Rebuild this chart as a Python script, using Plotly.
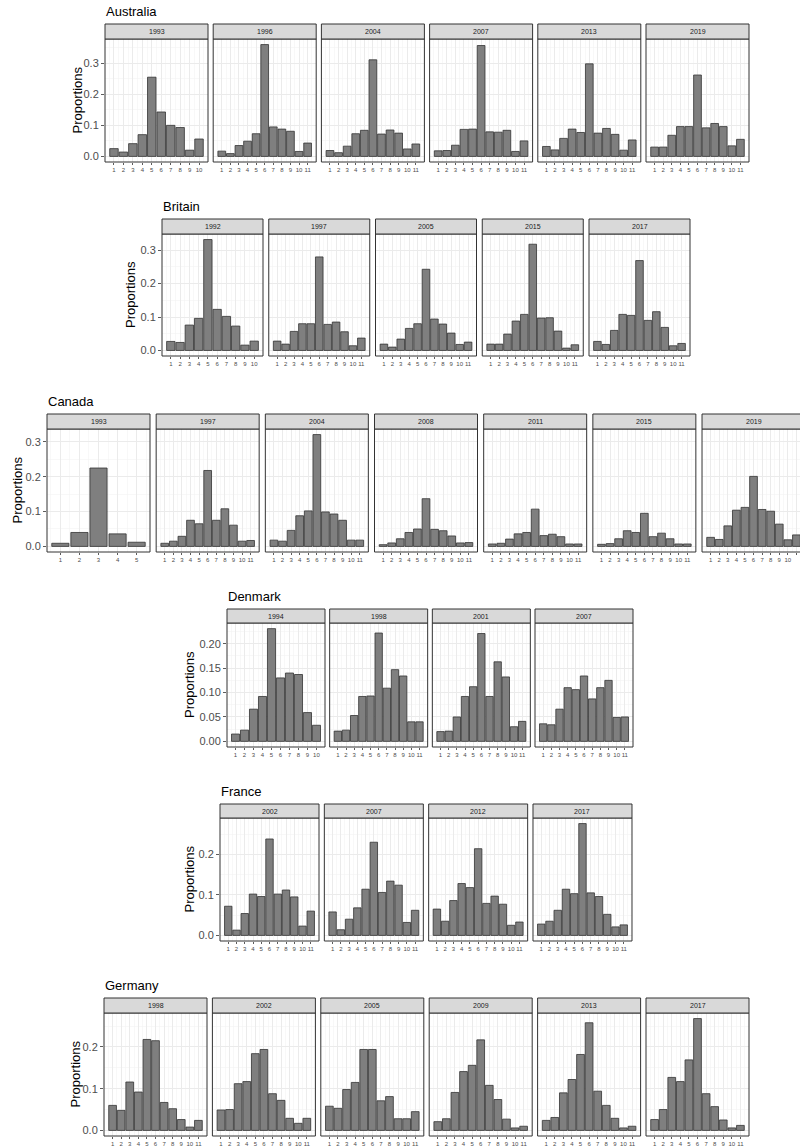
import plotly.graph_objects as go

# page is 800 x 1148; the body margin is removed so the figure fills the window
PAGE_W, PAGE_H = 800, 1148
OFF = 0
W, H = PAGE_W - OFF, PAGE_H - OFF

# ---------------- data (proportions) ----------------
australia_years = ["1993", "1996", "2004", "2007", "2013", "2019"]
australia_props = [
    [0.025, 0.014, 0.041, 0.070, 0.255, 0.143, 0.100, 0.093, 0.020, 0.056],
    [0.017, 0.009, 0.035, 0.049, 0.073, 0.360, 0.095, 0.088, 0.081, 0.016, 0.043],
    [0.019, 0.012, 0.033, 0.073, 0.084, 0.311, 0.072, 0.085, 0.075, 0.024, 0.040],
    [0.018, 0.019, 0.036, 0.087, 0.088, 0.357, 0.079, 0.078, 0.084, 0.016, 0.050],
    [0.032, 0.021, 0.058, 0.088, 0.077, 0.298, 0.075, 0.090, 0.071, 0.020, 0.053],
    [0.030, 0.030, 0.068, 0.096, 0.096, 0.262, 0.092, 0.106, 0.096, 0.034, 0.055],
]

britain_years = ["1992", "1997", "2005", "2015", "2017"]
britain_props = [
    [0.027, 0.024, 0.076, 0.096, 0.332, 0.123, 0.102, 0.073, 0.016, 0.028],
    [0.028, 0.019, 0.057, 0.080, 0.080, 0.280, 0.078, 0.085, 0.056, 0.014, 0.037],
    [0.019, 0.010, 0.034, 0.066, 0.080, 0.243, 0.094, 0.079, 0.052, 0.018, 0.025],
    [0.019, 0.019, 0.049, 0.088, 0.108, 0.318, 0.097, 0.098, 0.058, 0.007, 0.017],
    [0.027, 0.018, 0.060, 0.108, 0.105, 0.269, 0.090, 0.116, 0.069, 0.014, 0.021],
]

canada_years = ["1993", "1997", "2004", "2008", "2011", "2015", "2019"]
canada_props = [
    [0.009, 0.040, 0.225, 0.036, 0.012],
    [0.009, 0.015, 0.029, 0.075, 0.065, 0.218, 0.075, 0.108, 0.061, 0.015, 0.017],
    [0.018, 0.015, 0.046, 0.088, 0.102, 0.321, 0.099, 0.093, 0.075, 0.018, 0.018],
    [0.005, 0.010, 0.022, 0.040, 0.050, 0.137, 0.049, 0.045, 0.030, 0.010, 0.011],
    [0.007, 0.009, 0.021, 0.036, 0.040, 0.107, 0.031, 0.035, 0.028, 0.007, 0.007],
    [0.006, 0.008, 0.022, 0.045, 0.040, 0.095, 0.028, 0.038, 0.022, 0.007, 0.007],
    [0.026, 0.020, 0.059, 0.104, 0.112, 0.201, 0.106, 0.101, 0.064, 0.019, 0.033],
]

denmark_years = ["1994", "1998", "2001", "2007"]
denmark_props = [
    [0.015, 0.023, 0.066, 0.092, 0.231, 0.130, 0.140, 0.137, 0.059, 0.033],
    [0.021, 0.023, 0.053, 0.092, 0.093, 0.222, 0.109, 0.147, 0.134, 0.040, 0.040],
    [0.020, 0.021, 0.050, 0.092, 0.112, 0.221, 0.092, 0.163, 0.132, 0.030, 0.041],
    [0.036, 0.034, 0.066, 0.110, 0.106, 0.134, 0.087, 0.110, 0.125, 0.049, 0.050],
]

france_years = ["2002", "2007", "2012", "2017"]
france_props = [
    [0.072, 0.013, 0.054, 0.102, 0.096, 0.238, 0.102, 0.112, 0.095, 0.023, 0.060],
    [0.058, 0.014, 0.040, 0.068, 0.114, 0.230, 0.106, 0.134, 0.124, 0.032, 0.062],
    [0.065, 0.035, 0.086, 0.128, 0.118, 0.214, 0.079, 0.097, 0.077, 0.025, 0.033],
    [0.028, 0.035, 0.062, 0.114, 0.103, 0.276, 0.105, 0.096, 0.052, 0.021, 0.026],
]

germany_years = ["1998", "2002", "2005", "2009", "2013", "2017"]
germany_props = [
    [0.060, 0.048, 0.116, 0.092, 0.218, 0.215, 0.067, 0.052, 0.026, 0.008, 0.024],
    [0.049, 0.050, 0.112, 0.117, 0.184, 0.194, 0.088, 0.072, 0.029, 0.017, 0.029],
    [0.058, 0.053, 0.098, 0.115, 0.194, 0.194, 0.071, 0.081, 0.028, 0.028, 0.045],
    [0.021, 0.028, 0.091, 0.141, 0.156, 0.217, 0.108, 0.074, 0.027, 0.006, 0.010],
    [0.024, 0.031, 0.090, 0.122, 0.182, 0.258, 0.094, 0.060, 0.029, 0.006, 0.010],
    [0.026, 0.050, 0.127, 0.117, 0.169, 0.268, 0.088, 0.057, 0.025, 0.006, 0.012],
]

# ---------------- layout (page-pixel geometry of each country block) ----------------
blocks = [
    dict(name="Australia", years=australia_years, props=australia_props,
         left=105, step=108.2, width=103, strip_top=24, plot_top=39, plot_bot=162,
         dtick=0.1, fmt=".1f", ylab_off=28),
    dict(name="Britain", years=britain_years, props=britain_props,
         left=162, step=106.75, width=101, strip_top=219, plot_top=234, plot_bot=356,
         dtick=0.1, fmt=".1f", ylab_off=31),
    dict(name="Canada", years=canada_years, props=canada_props,
         left=47, step=109.17, width=103, strip_top=414, plot_top=429, plot_bot=552,
         dtick=0.1, fmt=".1f", ylab_off=30),
    dict(name="Denmark", years=denmark_years, props=denmark_props,
         left=227, step=102.67, width=98, strip_top=609, plot_top=623, plot_bot=747,
         dtick=0.05, fmt=".2f", ylab_off=38),
    dict(name="France", years=france_years, props=france_props,
         left=220, step=104.33, width=99, strip_top=804, plot_top=818, plot_bot=941,
         dtick=0.1, fmt=".1f", ylab_off=31),
    dict(name="Germany", years=germany_years, props=germany_props,
         left=104, step=108.4, width=103, strip_top=998, plot_top=1013, plot_bot=1136,
         dtick=0.1, fmt=".1f", ylab_off=29),
]

FONT = "Liberation Sans, Arial, Helvetica, sans-serif"
BAR_FILL = "#7F7F7F"
BAR_LINE = "#333333"
GRID_MAJ = "#EBEBEB"
GRID_MIN = "#F4F4F4"
BORDER = "#333333"
STRIP_FILL = "#D9D9D9"


def px(x):
    return (x - OFF) / W


def py(y):
    return 1 - (y - OFF) / H


fig = go.Figure()
layout = dict(
    width=W, height=H, autosize=False,
    margin=dict(l=0, r=0, t=0, b=0),
    paper_bgcolor="white", plot_bgcolor="white",
    showlegend=False, bargap=0,
    font=dict(family=FONT),
)
shapes = []
annotations = []

k = 0
for b in blocks:
    vmax = max(max(v) for v in b["props"])
    yr = [-0.05 * vmax, 1.05 * vmax]
    first_y = None
    for i, (yr_lbl, vals) in enumerate(zip(b["years"], b["props"])):
        k += 1
        n = len(vals)
        xs = list(range(1, n + 1))
        xname = "x" if k == 1 else f"x{k}"
        yname = "y" if k == 1 else f"y{k}"
        xkey = "xaxis" if k == 1 else f"xaxis{k}"
        ykey = "yaxis" if k == 1 else f"yaxis{k}"

        left = b["left"] + i * b["step"]
        right = left + b["width"]
        lo, hi = 0.55 - 0.05 * n, n + 0.45 + 0.05 * n
        vis_right = min(right, PAGE_W)
        vis_hi = lo + (hi - lo) * (vis_right - left) / (right - left)

        fig.add_trace(go.Bar(
            x=xs, y=vals, width=0.9, xaxis=xname, yaxis=yname,
            marker=dict(color=BAR_FILL, line=dict(color=BAR_LINE, width=0.8)),
            hoverinfo="x+y",
        ))

        layout[xkey] = dict(
            domain=[px(left), px(vis_right)], anchor=yname,
            range=[lo, vis_hi], tickmode="array", tickvals=xs,
            ticktext=[str(v) for v in xs], tickangle=0,
            tickfont=dict(size=6, color="#4D4D4D", family=FONT),
            ticks="outside", ticklen=2, tickcolor=BORDER, tickwidth=0.8,
            showgrid=True, gridcolor=GRID_MAJ, gridwidth=1,
            minor=dict(dtick=0.5, tick0=0.5, showgrid=True, gridcolor=GRID_MIN,
                       gridwidth=0.6, ticks=""),
            zeroline=False, showline=False, fixedrange=True,
        )
        ydict = dict(
            domain=[py(b["plot_bot"]), py(b["plot_top"])], anchor=xname,
            range=yr, dtick=b["dtick"], tick0=0, tickformat=b["fmt"],
            showgrid=True, gridcolor=GRID_MAJ, gridwidth=1,
            minor=dict(dtick=b["dtick"] / 2, tick0=0, showgrid=True,
                       gridcolor=GRID_MIN, gridwidth=0.6, ticks=""),
            zeroline=False, showline=False, fixedrange=True,
        )
        if i == 0:
            first_y = yname
            ydict.update(showticklabels=True, ticks="outside", ticklen=3,
                         tickcolor=BORDER, tickwidth=0.8,
                         tickfont=dict(size=11, color="#4D4D4D", family=FONT))
        else:
            ydict.update(showticklabels=False, ticks="", matches=first_y)
        layout[ykey] = ydict

        # panel border
        shapes.append(dict(type="rect", xref="paper", yref="paper",
                           x0=px(left), x1=px(right), y0=py(b["plot_bot"]), y1=py(b["plot_top"]),
                           line=dict(color=BORDER, width=1), fillcolor="rgba(0,0,0,0)",
                           layer="above"))
        # strip
        shapes.append(dict(type="rect", xref="paper", yref="paper",
                           x0=px(left), x1=px(right), y0=py(b["plot_top"]), y1=py(b["strip_top"]),
                           line=dict(color=BORDER, width=1), fillcolor=STRIP_FILL,
                           layer="above"))
        annotations.append(dict(xref="paper", yref="paper",
                                x=px((left + right) / 2), y=py((b["strip_top"] + b["plot_top"]) / 2),
                                text=yr_lbl, showarrow=False, xanchor="center", yanchor="middle",
                                font=dict(size=7, color="#1A1A1A", family=FONT)))

    # country title
    annotations.append(dict(xref="paper", yref="paper",
                            x=px(b["left"] - 1), y=py(b["strip_top"] - 12.5),
                            text=b["name"], showarrow=False, xanchor="left", yanchor="middle",
                            font=dict(size=13, color="black", family=FONT)))
    # y-axis title
    annotations.append(dict(xref="paper", yref="paper",
                            x=px(b["left"] - b["ylab_off"]),
                            y=py((b["plot_top"] + b["plot_bot"]) / 2),
                            text="Proportions", showarrow=False, textangle=-90,
                            xanchor="center", yanchor="middle",
                            font=dict(size=13, color="black", family=FONT)))

layout["shapes"] = shapes
layout["annotations"] = annotations
fig.update_layout(**layout)

fig.write_html("out.html",
               config={"displayModeBar": False, "staticPlot": True},
               post_script="document.body.style.margin='0';document.body.style.overflow='hidden';")
